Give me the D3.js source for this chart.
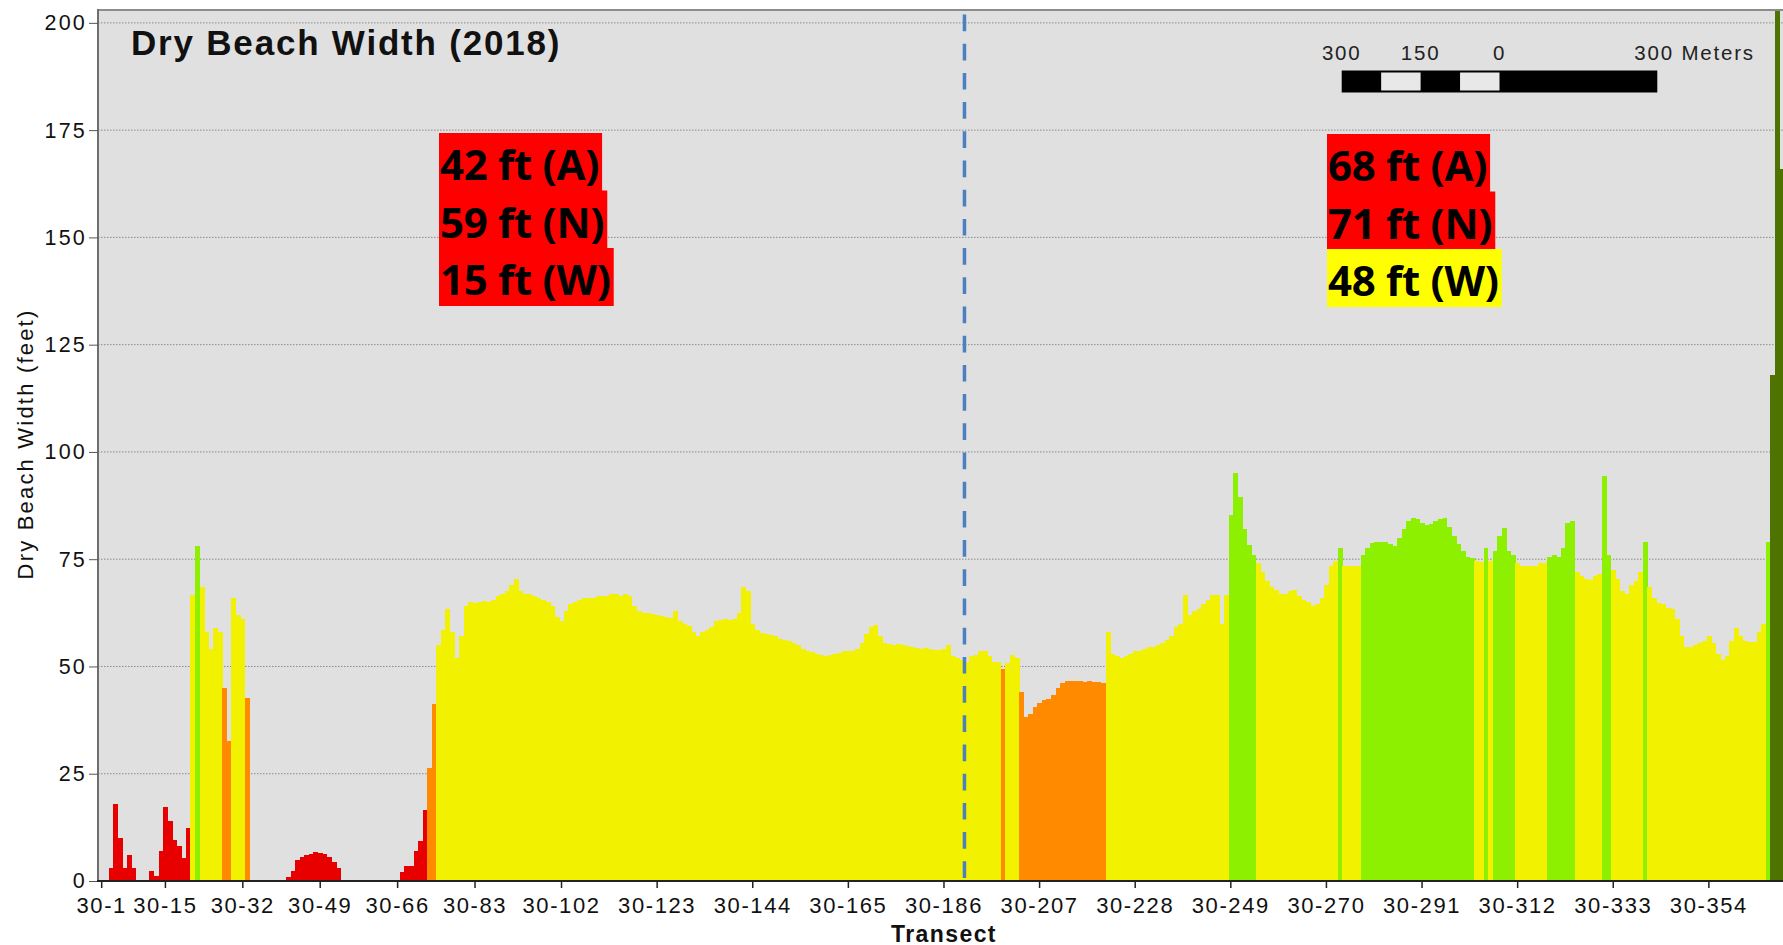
<!DOCTYPE html>
<html>
<head>
<meta charset="utf-8">
<script src="https://cdn.jsdelivr.net/npm/d3@7"></script>
<style>
  body { margin: 0; background: #fff; }
  svg { display: block; }
</style>
</head>
<body>
<div id="chart"></div>
<script>
// transect numbers 30-1 ... 30-370 (labels only)
const transectIds = d3.range(1, 371);

// dry beach width (feet) per transect
const dryWidth = [
  0, 0, 3, 18, 10, 3, 6, 3, 0, 0,
  0, 2.3, 1.2, 7, 17.3, 14, 9.6, 8.2, 5.4, 12.3,
  66.7, 78, 68.6, 58, 54, 59, 58, 45, 32.7, 66,
  62, 61, 42.7, 0, 0, 0, 0, 0, 0, 0,
  0, 1, 2.3, 4.9, 5.7, 6.1, 6.4, 6.7, 6.6, 6.3,
  5.7, 4.5, 3, 0, 0, 0, 0, 0, 0, 0,
  0, 0, 0, 0, 0, 0, 2, 3.5, 3.5, 7,
  9.4, 16.5, 26.4, 41.2, 55, 58.5, 63.5, 58, 52, 57,
  64, 65, 64.8, 65, 65.2, 65, 65.5, 66.5, 67, 67.5,
  69, 70.5, 67.5, 67, 67, 66.5, 66, 65.5, 65, 64,
  61.5, 60.5, 63, 64.5, 65, 65.5, 66, 66, 66, 66.5,
  66.5, 66.5, 67, 67, 66.5, 67, 66.5, 64, 63, 62.5,
  62.5, 62.3, 62, 61.8, 61.5, 61.3, 63, 60.5, 60, 59.5,
  58, 57, 58, 58.5, 59.3, 60.5, 60.8, 61, 60.8, 61,
  62.5, 68.6, 67.5, 60, 58.5, 57.7, 57.5, 57.3, 57, 56.5,
  56.2, 56, 55.5, 55, 54, 53.5, 53.3, 53, 52.7, 52.5,
  52.7, 52.8, 53.2, 53.5, 53.5, 53.7, 54, 55.5, 57.5, 59.3,
  59.7, 57, 55.4, 55.2, 55, 55.2, 55, 54.8, 54.5, 54.2,
  54, 54.2, 54, 53.8, 53.8, 54, 55, 52.5, 51.9, 51.5,
  51.1, 52.5, 52.7, 53.5, 53.5, 52.5, 51.1, 51, 49.5, 50.7,
  52.7, 52, 44, 38.3, 39, 40.5, 41.5, 42.2, 42.5, 43.4,
  44.9, 46.2, 46.5, 46.6, 46.5, 46.5, 46.4, 46.5, 46.3, 46.3,
  46.1, 58, 53, 52.5, 52, 52.5, 53, 53.5, 53.5, 54,
  54.5, 54.6, 55, 55.5, 56.2, 57, 59.3, 60, 66.7, 62,
  63, 63.5, 64.5, 65.5, 66.7, 66.7, 60, 66.7, 85.3, 95,
  89.6, 82, 78.3, 76, 74, 72, 70, 68.5, 67.8, 67,
  67, 67.5, 67.8, 66.5, 65.5, 65, 64, 64.5, 66, 69,
  73.5, 74.5, 77.5, 73.5, 73.5, 73.5, 73.5, 76, 77.5, 78.7,
  79, 79, 79.1, 78.5, 78, 80, 82, 84, 84.5, 84.3,
  83.5, 83, 83.3, 83.8, 84.3, 84.5, 82.5, 80.5, 78.5, 77,
  75.5, 75.2, 74.5, 74.3, 77.5, 74.5, 76.8, 80.3, 82.2, 77,
  76, 74, 73.5, 73.3, 73.3, 73.5, 74, 74.2, 75.5, 76,
  75.5, 77.5, 83.5, 84, 72, 71, 70.5, 70.2, 71, 71.5,
  94.3, 76, 72.5, 70.5, 67.5, 67, 69, 70, 72, 79,
  68.5, 66, 64.7, 64.5, 63.6, 63.5, 61, 57, 54.6, 54.6,
  55, 55.4, 56, 57, 55.5, 53, 51.5, 52.5, 56, 59,
  57, 56, 55.8, 55.8, 58, 60, 79, 118, 210, 166
];

// axis ticks
const xTickTransects = [1, 15, 32, 49, 66, 83, 102, 123, 144, 165, 186, 207, 228, 249, 270, 291, 312, 333, 354];
const yTicks = [0, 25, 50, 75, 100, 125, 150, 175, 200];

// class breaks (feet) and colours
const widthBreaks = [25, 50, 75, 100];
const widthColors = ["#e80000", "#ff8a00", "#f2f200", "#8cf000", "#4f7300"];

// divider between the two reaches (boundary before this transect)
const dividerTransect = 191;

// summary boxes
const westLabels = ["42 ft (A)", "59 ft (N)", "15 ft (W)"];
const westColors = ["#ff0000", "#ff0000", "#ff0000"];
const eastLabels = ["68 ft (A)", "71 ft (N)", "48 ft (W)"];
const eastColors = ["#ff0000", "#ff0000", "#ffff00"];

// scale bar (meters)
const scaleBarStops = [-300, -225, -150, -75, 0, 300];
const scaleBarLabels = [{ v: -300, t: "300" }, { v: -150, t: "150" }, { v: 0, t: "0" }];

// chart dimensions
const width = 1783;
const height = 945;
const plotLeft = 98;
const plotTop = 10;
const plotBottom = 881;
const plotRight = 1783;

const svg = d3.select("#chart")
  .append("svg")
  .attr("width", width)
  .attr("height", height)
  .style("font-family", "'Liberation Sans', Arial, sans-serif");

const xScale = d3.scaleBand()
  .domain(transectIds)
  .range([99.4, 1784])
  .padding(0);

const yScale = d3.scaleLinear()
  .domain([0, 203])
  .range([plotBottom, plotTop]);

const colorScale = d3.scaleThreshold()
  .domain(widthBreaks)
  .range(widthColors);

// plot background
svg.append("rect")
  .attr("x", plotLeft)
  .attr("y", plotTop)
  .attr("width", plotRight - plotLeft)
  .attr("height", plotBottom - plotTop)
  .attr("fill", "#e0e0e0");

// gridlines
svg.append("g")
  .selectAll("line")
  .data(yTicks.filter(d => d > 0))
  .join("line")
  .attr("x1", plotLeft)
  .attr("x2", plotRight)
  .attr("y1", d => yScale(d))
  .attr("y2", d => yScale(d))
  .attr("stroke", "#8a8a8a")
  .attr("stroke-width", 1)
  .attr("stroke-dasharray", "1.5,1.5");

svg.append("clipPath")
  .attr("id", "plot-clip")
  .append("rect")
  .attr("x", plotLeft)
  .attr("y", plotTop)
  .attr("width", plotRight - plotLeft)
  .attr("height", plotBottom - plotTop);

// bars
const barData = transectIds.map((id, i) => ({ id: id, value: dryWidth[i] }));

svg.append("g")
  .attr("clip-path", "url(#plot-clip)")
  .selectAll("rect")
  .data(barData.filter(d => d.value > 0))
  .join("rect")
  .attr("x", d => xScale(d.id))
  .attr("y", d => yScale(d.value))
  .attr("width", xScale.bandwidth() + 0.4)
  .attr("height", d => plotBottom - yScale(d.value))
  .attr("fill", d => colorScale(d.value))
  .attr("shape-rendering", "crispEdges");

// frame
svg.append("line")
  .attr("x1", plotLeft).attr("x2", plotRight)
  .attr("y1", plotTop).attr("y2", plotTop)
  .attr("stroke", "#8c8c8c").attr("stroke-width", 2);
svg.append("line")
  .attr("x1", plotLeft).attr("x2", plotLeft)
  .attr("y1", plotTop - 1).attr("y2", plotBottom)
  .attr("stroke", "#6e6e6e").attr("stroke-width", 2);

// divider
svg.append("line")
  .attr("x1", xScale(dividerTransect))
  .attr("x2", xScale(dividerTransect))
  .attr("y1", 14.5)
  .attr("y2", plotBottom)
  .attr("stroke", "#4a7fc0")
  .attr("stroke-width", 3.5)
  .attr("stroke-dasharray", "16.7,12.5");

// y axis
const yAxis = svg.append("g")
  .attr("transform", `translate(${plotLeft}, 0)`)
  .call(d3.axisLeft(yScale).tickValues(yTicks).tickSize(9).tickPadding(2));
yAxis.select(".domain").remove();
yAxis.selectAll(".tick line").attr("stroke", "#555");
yAxis.selectAll("text")
  .attr("font-family", "'Liberation Sans', Arial, sans-serif")
  .attr("font-size", "21.5px")
  .attr("letter-spacing", "2.2px")
  .attr("fill", "#111");

// x axis
const xAxis = svg.append("g")
  .attr("transform", `translate(0, ${plotBottom})`)
  .call(d3.axisBottom(xScale)
    .tickValues(xTickTransects)
    .tickFormat(d => "30-" + d)
    .tickSize(7)
    .tickSizeOuter(0)
    .tickPadding(9));
xAxis.select(".domain").remove();
xAxis.selectAll(".tick line").attr("stroke", "#222").attr("stroke-width", 1.5);
xAxis.selectAll("text")
  .attr("font-family", "'Liberation Sans', Arial, sans-serif")
  .attr("font-size", "22px")
  .attr("letter-spacing", "1.6px")
  .attr("fill", "#111");

// baseline
svg.append("line")
  .attr("x1", plotLeft - 1).attr("x2", plotRight)
  .attr("y1", plotBottom).attr("y2", plotBottom)
  .attr("stroke", "#222").attr("stroke-width", 2);

// axis titles
svg.append("text")
  .attr("transform", "translate(33, 444) rotate(-90)")
  .attr("text-anchor", "middle")
  .attr("font-size", "22px")
  .attr("letter-spacing", "2.2px")
  .attr("fill", "#111")
  .text("Dry Beach Width (feet)");

svg.append("text")
  .attr("x", 944)
  .attr("y", 941.5)
  .attr("text-anchor", "middle")
  .attr("font-size", "23px")
  .attr("font-weight", "bold")
  .attr("letter-spacing", "1.4px")
  .attr("fill", "#111")
  .text("Transect");

// chart title
svg.append("text")
  .attr("x", 131)
  .attr("y", 55)
  .attr("font-size", "35px")
  .attr("font-weight", "bold")
  .attr("letter-spacing", "1.8px")
  .attr("fill", "#111")
  .text("Dry Beach Width (2018)");

// scale bar
const meterScale = d3.scaleLinear().domain([-300, 300]).range([1341.7, 1657.3]);
const scaleBar = svg.append("g");
scaleBar.append("rect")
  .attr("x", meterScale(-300))
  .attr("y", 70.5)
  .attr("width", meterScale(300) - meterScale(-300))
  .attr("height", 22)
  .attr("fill", "#000");
scaleBar.selectAll(".seg")
  .data(d3.pairs(scaleBarStops).filter((d, i) => i % 2 === 1))
  .join("rect")
  .attr("class", "seg")
  .attr("x", d => meterScale(d[0]))
  .attr("y", 72.5)
  .attr("width", d => meterScale(d[1]) - meterScale(d[0]))
  .attr("height", 18)
  .attr("fill", "#e8e8e8");
scaleBar.selectAll(".lbl")
  .data(scaleBarLabels)
  .join("text")
  .attr("class", "lbl")
  .attr("x", d => meterScale(d.v))
  .attr("y", 59.5)
  .attr("text-anchor", "middle")
  .attr("font-size", "20.5px")
  .attr("letter-spacing", "1.8px")
  .attr("fill", "#222")
  .text(d => d.t);
scaleBar.append("text")
  .attr("x", meterScale(300) - 23)
  .attr("y", 59.5)
  .attr("font-size", "20.5px")
  .attr("letter-spacing", "1.8px")
  .attr("fill", "#222")
  .text("300 Meters");

// summary boxes
function drawBoxes(labels, colors, left, top) {
  const g = svg.append("g");
  labels.forEach((label, i) => {
    const rowTop = top + i * 57.5;
    const box = g.append("rect")
      .attr("x", left)
      .attr("y", rowTop)
      .attr("height", 58)
      .attr("fill", colors[i]);
    const txt = g.append("text")
      .attr("x", left + 1)
      .attr("y", rowTop + 47)
      .attr("font-family", "'Open Sans', 'Noto Sans', sans-serif")
      .attr("font-weight", 700)
      .attr("font-size", "42px")
      .attr("letter-spacing", "-0.3px")
      .attr("fill", "#000")
      .text(label);
    box.attr("width", txt.node().getComputedTextLength() + 4);
  });
}
drawBoxes(westLabels, westColors, 439, 133);
drawBoxes(eastLabels, eastColors, 1327, 134);
</script>
</body>
</html>
